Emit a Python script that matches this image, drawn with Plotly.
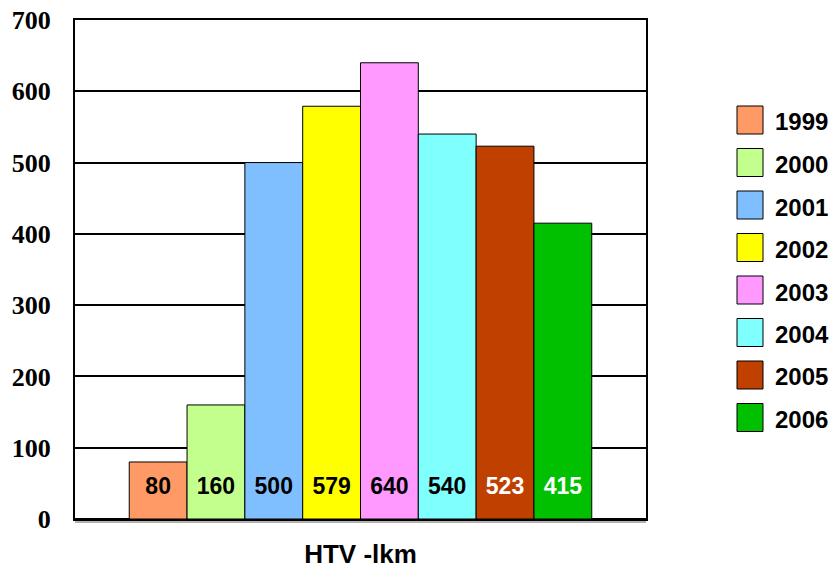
import plotly.graph_objects as go

category = ["HTV -lkm"]
years = ["1999", "2000", "2001", "2002", "2003", "2004", "2005", "2006"]
values = [80, 160, 500, 579, 640, 540, 523, 415]
colors = ["#FF9966", "#C2FF8C", "#80BFFF", "#FFFF00", "#FF99FF", "#80FFFF", "#C04000", "#00C000"]
text_colors = ["black", "black", "black", "black", "black", "black", "white", "white"]
y_ticks = [0, 100, 200, 300, 400, 500, 600, 700]

W, H = 836, 569
ML, MR, MT, MB = 75, 190, 20, 50
PW, PH = W - ML - MR, H - MT - MB
LABEL_Y = 43

fig = go.Figure()
for yr, v, c in zip(years, values, colors):
    fig.add_trace(go.Bar(
        x=category, y=[v], name=yr, offsetgroup=yr,
        marker=dict(color=c, line=dict(color="black", width=1)),
        showlegend=False,
    ))
for yr, v, tc in zip(years, values, text_colors):
    fig.add_trace(go.Scatter(
        x=category, y=[LABEL_Y], mode="text", text=[str(v)], offsetgroup=yr,
        textposition="middle center",
        textfont=dict(family="Liberation Sans, Arial", size=23, color=tc, weight="bold"),
        showlegend=False, hoverinfo="skip",
    ))


def px_x(x):
    return (x - ML) / PW


def px_y(y):
    return (H - MB - y) / PH


# custom legend
shapes = []
annotations = []
first_cy, step = 120, 42.5
for i, (yr, c) in enumerate(zip(years, colors)):
    cy = first_cy + i * step
    shapes.append(dict(
        type="rect", xref="paper", yref="paper",
        x0=px_x(737), x1=px_x(763), y0=px_y(cy + 14), y1=px_y(cy - 14),
        fillcolor=c, line=dict(color="black", width=1),
    ))
    annotations.append(dict(
        xref="paper", yref="paper", x=px_x(773), y=px_y(cy + 2),
        text=yr, showarrow=False, xanchor="left", yanchor="middle",
        font=dict(family="Liberation Sans, Arial", size=24, color="black", weight="bold"),
    ))
shapes.append(dict(type="line", xref="paper", yref="paper", x0=0, x1=1,
                   y0=-3 / PH, y1=-3 / PH, line=dict(color="#999999", width=1.5)))

fig.update_layout(
    width=W, height=H,
    margin=dict(l=ML, r=MR, t=MT, b=MB, autoexpand=False),
    paper_bgcolor="white", plot_bgcolor="white",
    barmode="group", bargap=0.19, bargroupgap=0,
    scattermode="group", scattergap=0.19,
    shapes=shapes, annotations=annotations,
    xaxis=dict(
        automargin=False,
        showline=True, linecolor="black", linewidth=2, mirror=True,
        tickfont=dict(family="Liberation Sans, Arial", size=26, color="black", weight="bold"),
        ticks="outside", ticklen=11, tickcolor="rgba(0,0,0,0)",
        ticklabeloverflow="allow", showgrid=False,
    ),
    yaxis=dict(
        automargin=False,
        range=[0, 700], tickvals=y_ticks,
        showline=True, linecolor="black", linewidth=2, mirror=True,
        showgrid=True, gridcolor="black", gridwidth=1.5,
        zeroline=True, zerolinecolor="black", zerolinewidth=2,
        tickfont=dict(family="Liberation Serif, Times New Roman", size=26, color="black", weight="bold"),
        ticks="outside", ticklen=17, tickcolor="rgba(0,0,0,0)",
        ticklabeloverflow="allow",
    ),
)

fig.write_html("out.html", config={"displayModeBar": False},
               post_script="document.body.style.margin='0';")
